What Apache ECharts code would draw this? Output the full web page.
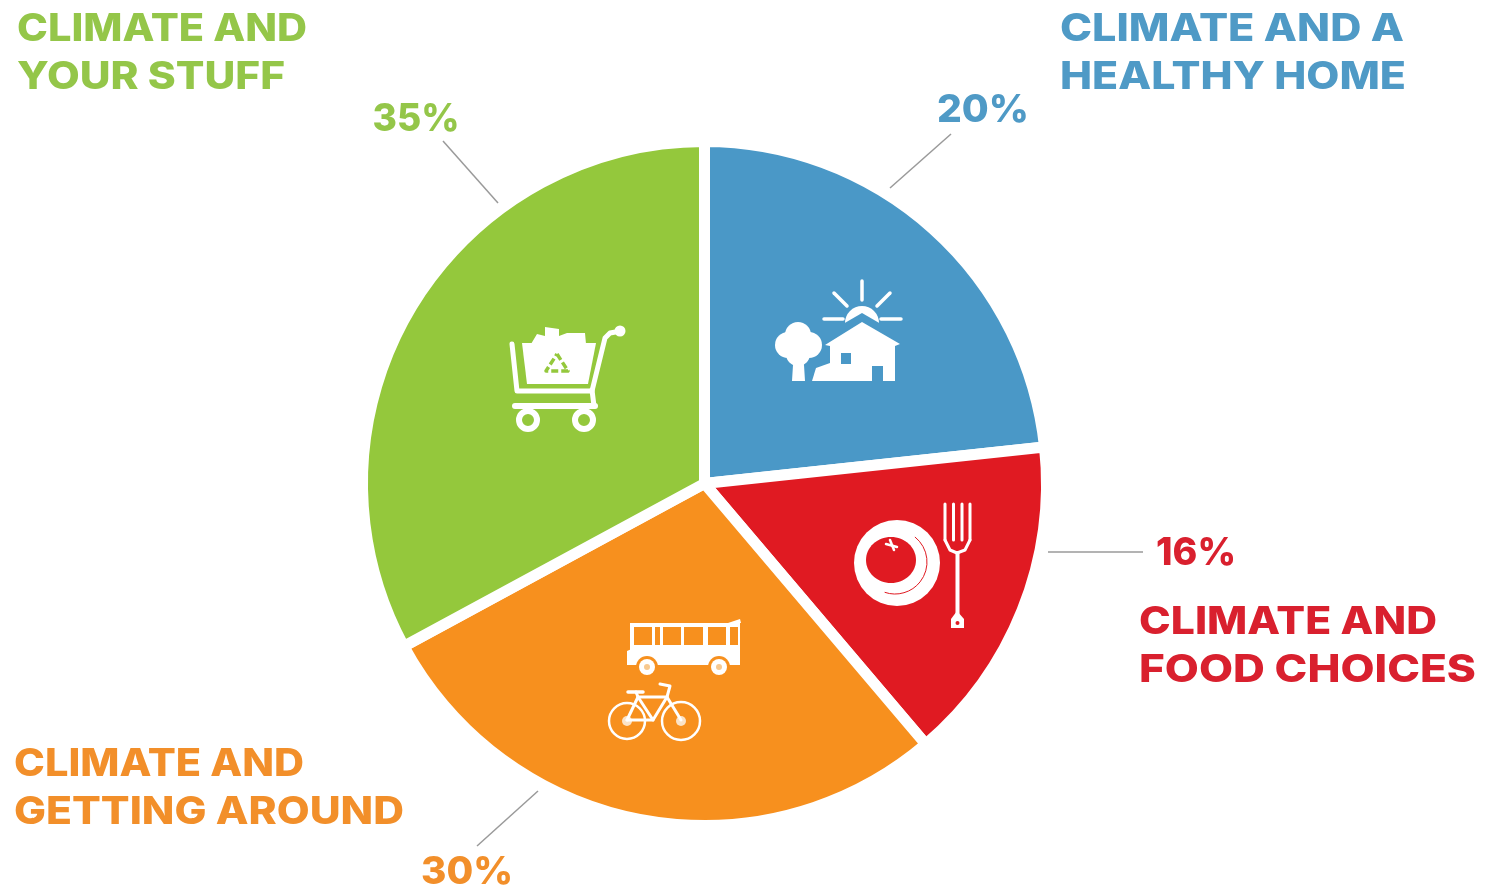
<!DOCTYPE html>
<html><head><meta charset="utf-8">
<style>html,body{margin:0;padding:0;background:#fff}#c{width:1487px;height:890px}</style>
<script src="https://cdn.jsdelivr.net/npm/echarts@6/dist/echarts.min.js"></script>
</head><body><div id="c"></div>
<script>
// Slice shares as drawn in the picture (the drawn angles differ from the printed labels)
const categories = ['Healthy home', 'Food choices', 'Getting around', 'Your stuff'];
const sliceShares = [23.3, 15.5, 28.3, 32.9];
const printedPercents = ['20%', '16%', '30%', '35%'];
const titleLines = [['CLIMATE AND A','HEALTHY HOME'],['CLIMATE AND','FOOD CHOICES'],['CLIMATE AND','GETTING AROUND'],['CLIMATE AND','YOUR STUFF']];
const sliceColors = ['#4a98c7','#e01a22','#f7901e','#94c83c'];
const textColors = ['#4f9ac6','#d9202e','#f28f2a','#94c649'];

const W='#ffffff', FONT='"Inter","Noto Sans",sans-serif';
const g=[];
const add=o=>{o.silent=true;o.z=10;g.push(o)};
const poly=(pts,fill)=>add({type:'polygon',shape:{points:pts},style:{fill:fill||W}});
const line=(pts,w,col,extra)=>add({type:'polyline',shape:{points:pts},style:Object.assign({fill:null,stroke:col||W,lineWidth:w,lineCap:'round',lineJoin:'round'},extra||{})});
const circ=(x,y,r,fill)=>add({type:'circle',shape:{cx:x,cy:y,r:r},style:{fill:fill||W}});
const rect=(x,y,w,h,fill)=>add({type:'rect',shape:{x:x,y:y,width:w,height:h},style:{fill:fill||W}});
const ring=(x,y,r,w,col)=>add({type:'circle',shape:{cx:x,cy:y,r:r},style:{fill:null,stroke:col||W,lineWidth:w}});
const mctx=document.createElement('canvas').getContext('2d');
// text fitted horizontally to the width it occupies in the reference
const txt=(t,x,y,col,size,width,align)=>{
  const font='800 '+size+'px '+FONT; mctx.font=font;
  add({type:'text',x:x,y:y,scaleX:width/mctx.measureText(t).width,
    style:{text:t,fill:col,font:font,textAlign:align||'left',textVerticalAlign:'middle'}});
};

// titles: x, y of each line, width of each line
const titlePos=[[1060,30,78,344,346],[1139,623,671,298,337],[14,765,813,290,390],[17,30,78,290,268]];
titleLines.forEach((l,i)=>{const p=titlePos[i];txt(l[0],p[0],p[1],textColors[i],38,p[3]);txt(l[1],p[0],p[2],textColors[i],38,p[4]);});
// percents + leaders
const pctPos=[[983,111,92],[1196,554,80],[467,873,92],[416,120,87]];
printedPercents.forEach((p,i)=>txt(p,pctPos[i][0],pctPos[i][1],textColors[i],38,pctPos[i][2],'center'));
const leaders=[[[951,134],[890,188]],[[1048,552],[1143,552]],[[538,791],[477,846]],[[443,141],[498,203]]];
leaders.forEach(l=>line(l,1.5,'#9a9a9a',{lineCap:'butt'}));

// house icon
const B=sliceColors[0];
[[[862,281],[862,300]],[[834,293],[847,306]],[[890,293],[877,306]],[[824,319],[843,319]],[[881,319],[901,319]]].forEach(l=>line(l,3.5));
add({type:'sector',shape:{cx:862,cy:323,r:17,r0:0,startAngle:Math.PI,endAngle:2*Math.PI},style:{fill:W}});
poly([[843,324],[862,313],[881,324],[881,326],[843,326]],B);
poly([[862,322],[900,344],[895,346],[895,381],[830,381],[830,346],[825,345]]);
poly([[812,381],[816,368],[830,363],[830,381]]);
rect(841,353,10,11,B); rect(872,366,11,15,B);
circ(798,344,17);circ(788,345,13);circ(809,345,13);circ(798,335,13);circ(798,354,12);
poly([[792,381],[805,381],[803,350],[794,350]]);

// cart icon
const Gc=sliceColors[3];
poly([[522,343],[596,343],[588,384],[527,384]]);
poly([[531,344],[537,334],[545,336],[545,327],[559,329],[559,336],[567,333],[585,333],[586,344]]);
line([[512,344],[517,391],[592,391],[605,338],[610,333],[621,331]],5);
circ(620,331,5.5);
line([[592,390],[594,406]],5);
line([[515,406],[595,406]],6);
ring(528,420,9,6);ring(584,420,9,6);
line([[557,354],[568,371],[546,371],[557,354]],3.5,Gc,{lineDash:[7,3],lineCap:'butt'});

// plate and fork icon
const R=sliceColors[1];
circ(897,563,43);
add({type:'ellipse',shape:{cx:891,cy:560,rx:25,ry:23},style:{fill:R}});
add({type:'arc',shape:{cx:895,cy:562,r:32,startAngle:-0.9,endAngle:1.9},style:{fill:null,stroke:R,lineWidth:1}});
line([[886,544],[897,547]],2.5);line([[890,540],[894,550]],2.5);
[945,953.5,962,970].forEach(x=>line([[x,504],[x,540]],3));
line([[945,540],[950,550],[957,553],[965,550],[970,540]],3);
line([[957.5,553],[957.5,614]],4);
poly([[957,611],[951,619],[951,628],[964,628],[964,619]]);
circ(957.5,623,2,R);

// bus and bike icon
const O=sliceColors[2];
rect(630,623,110,42);
poly([[728,623],[740,619],[741,623]]);
poly([[627,651],[634,648],[634,665],[627,665]]);
[[634,652],[655,660],[663,681],[684,703],[708,726],[730,738]].forEach(w=>rect(w[0],627,w[1]-w[0],18,O));
[647,719].forEach(x=>{circ(x,667,11,O);circ(x,667,8);circ(x,667,3,'#f8c98f');});
ring(627,721,18,2.5);ring(681,721,19,2.5);
circ(627,721,5,'#fbe3c8');circ(681,721,5,'#fbe3c8');
line([[627,720],[638,697],[667,697],[681,720]],3);
line([[638,697],[653,720],[667,697]],3);
line([[653,720],[627,720]],3);
line([[628,692],[643,692]],3.5);line([[638,697],[636,692]],3);
line([[667,697],[670,686],[660,684]],3);

const chart=echarts.init(document.getElementById('c'),null,{renderer:'canvas'});
chart.setOption({
  animation:false,
  backgroundColor:'#ffffff',
  graphic:{elements:g},
  series:[{
    type:'pie',
    center:[704.5,483.5],
    radius:[0,342],
    startAngle:90,
    clockwise:true,
    silent:true,
    label:{show:false},
    labelLine:{show:false},
    itemStyle:{borderColor:'#ffffff',borderWidth:11},
    data:categories.map((n,i)=>({name:n,value:sliceShares[i],itemStyle:{color:sliceColors[i]}}))
  }]
});
</script></body></html>
